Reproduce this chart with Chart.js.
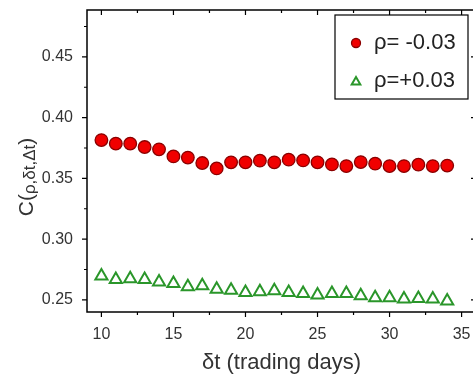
<!DOCTYPE html>
<html>
<head>
<meta charset="utf-8">
<script src="https://cdn.jsdelivr.net/npm/chart.js@4.4.0/dist/chart.umd.min.js"></script>
<style>
  html, body { margin: 0; padding: 0; background: #fff; overflow: hidden; }
  #wrap { width: 473px; height: 376px; overflow: hidden; }
  #wrap div { width: 485px; height: 376px; }
</style>
</head>
<body>
<div id="wrap"><div><canvas id="mycanvas" width="485" height="376"></canvas></div></div>
<script>
// delta t in trading days
var days = [10, 11, 12, 13, 14, 15, 16, 17, 18, 19, 20, 21, 22, 23, 24, 25, 26, 27, 28, 29, 30, 31, 32, 33, 34];
var rhoNeg = [0.3815, 0.3786, 0.3786, 0.3758, 0.3739, 0.3681, 0.3671, 0.3626, 0.3582, 0.3632, 0.3632, 0.3646, 0.3632,
              0.3654, 0.3648, 0.3632, 0.3615, 0.3601, 0.3634, 0.3621, 0.3601, 0.3601, 0.3613, 0.3601, 0.3605];
var rhoPos = [0.2696, 0.2668, 0.2673, 0.2668, 0.2646, 0.2635, 0.2607, 0.2616, 0.2588, 0.2580, 0.2561, 0.2566, 0.2575,
              0.2561, 0.2553, 0.2539, 0.2553, 0.2553, 0.2533, 0.2517, 0.2517, 0.2506, 0.2511, 0.2506, 0.2490];
var xTicks = [10, 15, 20, 25, 30, 35];
var yTicks = [0.25, 0.30, 0.35, 0.40, 0.45];
var labels = ['\u03c1= -0.03', '\u03c1=+0.03'];

var FONT = '"Liberation Sans", Arial, sans-serif';

var chartdata = {
  datasets: [
    {
      label: labels[0],
      data: days.map(function(d, i) { return {x: d, y: rhoNeg[i]}; }),
      pointStyle: 'circle',
      pointRadius: 6.3,
      pointBorderWidth: 1.3,
      backgroundColor: '#f00000',
      borderColor: '#8a0000',
      showLine: false
    },
    {
      label: labels[1],
      data: days.map(function(d, i) { return {x: d, y: rhoPos[i]}; }),
      pointStyle: 'triangle',
      pointRadius: 7,
      pointBorderWidth: 2,
      backgroundColor: '#ffffff',
      borderColor: '#2a962a',
      showLine: false
    }
  ]
};

var frame = {
  id: 'frame',
  afterDraw: function(chart) {
    var ctx = chart.ctx, a = chart.chartArea;
    var xs = chart.scales.x, ys = chart.scales.y;
    ctx.save();
    ctx.strokeStyle = '#000';
    ctx.lineWidth = 1.5;
    ctx.strokeRect(a.left, a.top, a.right - a.left, a.bottom - a.top);
    ctx.lineWidth = 1.2;
    ctx.beginPath();
    var v, p, len;
    for (v = 10; v <= 35; v += 2.5) {
      p = xs.getPixelForValue(v);
      len = (v % 5 === 0) ? 5 : 3;
      ctx.moveTo(p, a.bottom); ctx.lineTo(p, a.bottom + len);
      ctx.moveTo(p, a.top); ctx.lineTo(p, a.top + len);
    }
    for (v = 0.25; v < 0.49; v += 0.025) {
      p = ys.getPixelForValue(v);
      len = (Math.round(v * 1000) % 50 === 0) ? 5 : 3;
      ctx.moveTo(a.left, p); ctx.lineTo(a.left - len, p);
      ctx.moveTo(a.right, p); ctx.lineTo(a.right - len, p);
    }
    ctx.stroke();

    // legend
    var lx = 335, ly = 15, lw = 133, lh = 84;
    ctx.fillStyle = '#fff';
    ctx.fillRect(lx, ly, lw, lh);
    ctx.lineWidth = 1.2;
    ctx.strokeRect(lx, ly, lw, lh);
    var rows = [43, 81];
    chart.data.datasets.forEach(function(ds, i) {
      ctx.fillStyle = ds.backgroundColor;
      ctx.strokeStyle = ds.borderColor;
      ctx.lineWidth = ds.pointBorderWidth;
      Chart.helpers.drawPoint(ctx, {pointStyle: ds.pointStyle, radius: i === 0 ? 4.5 : 5, borderWidth: ds.pointBorderWidth}, 356, rows[i] + (i === 1 ? 1 : 0));
      ctx.fillStyle = '#222';
      ctx.font = '22px ' + FONT;
      ctx.textAlign = 'left';
      ctx.textBaseline = 'middle';
      ctx.fillText(ds.label, 374, rows[i]);
    });

    // y axis title
    ctx.save();
    ctx.translate(33, 177);
    ctx.rotate(-Math.PI / 2);
    ctx.fillStyle = '#333';
    ctx.textBaseline = 'alphabetic';
    var big = '21px ' + FONT;
    var small = '17px ' + FONT;
    ctx.font = big;
    var w1 = ctx.measureText('C(').width, w3 = ctx.measureText(')').width;
    ctx.font = small;
    var w2 = ctx.measureText('\u03c1,\u03b4t,\u0394t').width;
    var x0 = -(w1 + w2 + w3) / 2;
    ctx.textAlign = 'left';
    ctx.font = big; ctx.fillText('C(', x0, 0);
    ctx.font = small; ctx.fillText('\u03c1,\u03b4t,\u0394t', x0 + w1, 2);
    ctx.font = big; ctx.fillText(')', x0 + w1 + w2, 0);
    ctx.restore();
    ctx.restore();
  }
};

var ctx = document.getElementById('mycanvas');
var chart = new Chart(ctx, {
  type: 'scatter',
  data: chartdata,
  options: {
    responsive: false,
    animation: false,
    layout: { padding: { top: 10, right: 4, left: 0, bottom: 0 } },
    plugins: { legend: { display: false }, tooltip: { enabled: false } },
    scales: {
      x: {
        type: 'linear', min: 9, max: 36,
        afterBuildTicks: function(s) { s.ticks = xTicks.map(function(v) { return {value: v}; }); },
        afterFit: function(s) { s.height = 64; s.paddingLeft = 0; s.paddingRight = 0; },
        grid: { display: false },
        border: { display: false },
        ticks: { color: '#333', padding: 5, maxRotation: 0, font: { size: 16, family: FONT } },
        title: { display: true, text: '\u03b4t (trading days)', color: '#333', padding: { top: 4, bottom: 0 }, font: { size: 22, family: FONT } }
      },
      y: {
        type: 'linear', min: 0.24, max: 0.4886,
        afterBuildTicks: function(s) { s.ticks = yTicks.map(function(v) { return {value: v}; }); },
        afterFit: function(s) { s.width = 87; s.paddingTop = 0; s.paddingBottom = 0; },
        grid: { display: false },
        border: { display: false },
        ticks: { color: '#333', padding: 6, font: { size: 16, family: FONT },
                 callback: function(v) { return v.toFixed(2); } }
      }
    }
  },
  plugins: [frame]
});
</script>
</body>
</html>
